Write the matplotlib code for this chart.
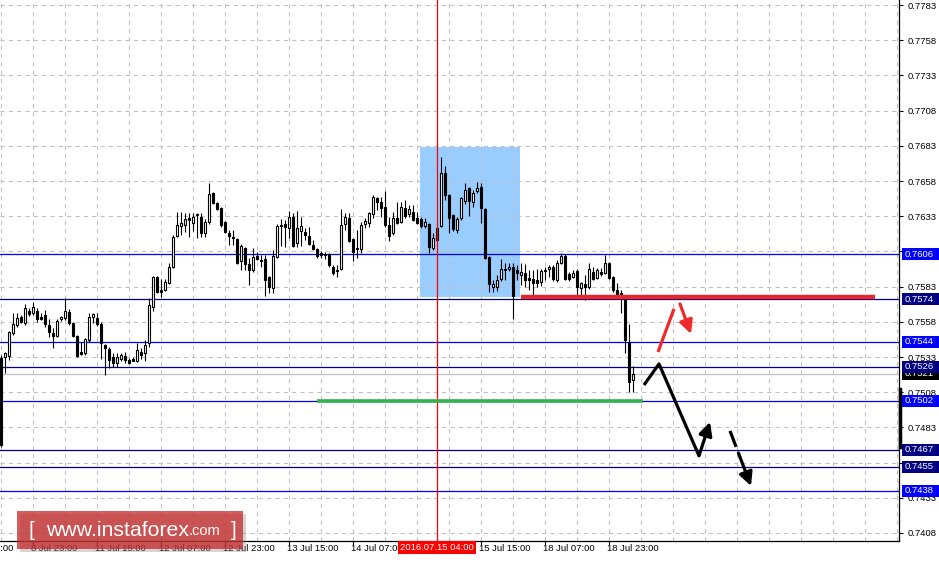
import numpy as np
import matplotlib.pyplot as plt
from matplotlib.patches import Rectangle
import matplotlib.transforms as mtransforms

plt.rcParams['font.family'] = ['Liberation Sans', 'DejaVu Sans']

# hourly candles, 8 Jul 15:00 .. 18 Jul 23:00 (one per hour, weekend skipped)
opens = [0.75323, 0.75330, 0.75337, 0.75501, 0.75557, 0.75614, 0.75572, 0.75657, 0.75643, 0.75657,
         0.75614, 0.75628, 0.75557, 0.75501, 0.75479, 0.75600, 0.75607, 0.75650, 0.75572, 0.75479,
         0.75366, 0.75359, 0.75451, 0.75614, 0.75607, 0.75565, 0.75415, 0.75387, 0.75330, 0.75288,
         0.75316, 0.75337, 0.75309, 0.75316, 0.75302, 0.75366, 0.75359, 0.75430, 0.75685, 0.75898,
         0.75806, 0.75806, 0.75856, 0.75970, 0.76190, 0.76261, 0.76268, 0.76318, 0.76283, 0.76339,
         0.76325, 0.76212, 0.76290, 0.76496, 0.76425, 0.76389, 0.76290, 0.76212, 0.76183, 0.76169,
         0.76013, 0.76105, 0.75992, 0.75948, 0.76049, 0.76020, 0.76027, 0.75898, 0.75820, 0.76042,
         0.76268, 0.76276, 0.76247, 0.76325, 0.76141, 0.76226, 0.76219, 0.76190, 0.76127, 0.76098,
         0.76069, 0.76063, 0.76063, 0.75970, 0.75948, 0.75956, 0.76276, 0.76318, 0.76169, 0.76098,
         0.76098, 0.76276, 0.76283, 0.76347, 0.76460, 0.76432, 0.76396, 0.76268, 0.76212, 0.76318,
         0.76290, 0.76389, 0.76347, 0.76361, 0.76318, 0.76311, 0.76261, 0.76276, 0.76105, 0.76247,
         0.76261, 0.76638, 0.76481, 0.76339, 0.76233, 0.76318, 0.76439, 0.76531, 0.76432, 0.76510,
         0.76538, 0.76382, 0.76042, 0.75827, 0.75827, 0.75884, 0.75948, 0.75956, 0.75970, 0.75948,
         0.75913, 0.75927, 0.75891, 0.75884, 0.75877, 0.75863, 0.75948, 0.75956, 0.75970, 0.75877,
         0.75999, 0.76049, 0.75919, 0.75898, 0.75941, 0.75820, 0.75849, 0.75827, 0.75934, 0.75891,
         0.75934, 0.75927, 0.75999, 0.75898, 0.75806, 0.75785, 0.75749, 0.75437, 0.75167]
highs = [0.75344, 0.75366, 0.75515, 0.75643, 0.75643, 0.75628, 0.75707, 0.75678, 0.75721, 0.75678,
         0.75643, 0.75664, 0.75600, 0.75536, 0.75600, 0.75621, 0.75749, 0.75671, 0.75579, 0.75487,
         0.75437, 0.75465, 0.75643, 0.75643, 0.75643, 0.75579, 0.75423, 0.75401, 0.75359, 0.75359,
         0.75359, 0.75366, 0.75323, 0.75330, 0.75430, 0.75394, 0.75451, 0.75749, 0.75905, 0.75905,
         0.75884, 0.75884, 0.75999, 0.76197, 0.76361, 0.76361, 0.76354, 0.76354, 0.76354, 0.76354,
         0.76354, 0.76311, 0.76567, 0.76503, 0.76432, 0.76396, 0.76297, 0.76233, 0.76233, 0.76176,
         0.76134, 0.76112, 0.76035, 0.76105, 0.76077, 0.76056, 0.76056, 0.75905, 0.76091, 0.76276,
         0.76311, 0.76304, 0.76368, 0.76354, 0.76368, 0.76325, 0.76247, 0.76254, 0.76162, 0.76105,
         0.76084, 0.76077, 0.76069, 0.75985, 0.75985, 0.76382, 0.76354, 0.76354, 0.76176, 0.76233,
         0.76289, 0.76318, 0.76361, 0.76481, 0.76467, 0.76467, 0.76510, 0.76325, 0.76361, 0.76432,
         0.76432, 0.76446, 0.76411, 0.76411, 0.76361, 0.76325, 0.76318, 0.76283, 0.76212, 0.76261,
         0.76751, 0.76687, 0.76488, 0.76347, 0.76325, 0.76467, 0.76567, 0.76538, 0.76517, 0.76574,
         0.76567, 0.76389, 0.76049, 0.75877, 0.75913, 0.76027, 0.75999, 0.75999, 0.75999, 0.75985,
         0.75999, 0.75992, 0.75948, 0.75948, 0.75956, 0.75956, 0.75970, 0.75985, 0.75985, 0.76020,
         0.76069, 0.76063, 0.75934, 0.75948, 0.75956, 0.75863, 0.75913, 0.75999, 0.75970, 0.75963,
         0.75963, 0.76056, 0.76006, 0.75905, 0.75856, 0.75806, 0.75756, 0.75565, 0.75267]
lows = [0.74691, 0.75217, 0.75309, 0.75487, 0.75543, 0.75572, 0.75557, 0.75621, 0.75628, 0.75579,
        0.75593, 0.75543, 0.75472, 0.75394, 0.75472, 0.75586, 0.75593, 0.75557, 0.75472, 0.75330,
        0.75344, 0.75344, 0.75437, 0.75572, 0.75550, 0.75316, 0.75202, 0.75252, 0.75259, 0.75259,
        0.75302, 0.75288, 0.75281, 0.75302, 0.75295, 0.75316, 0.75302, 0.75401, 0.75657, 0.75785,
        0.75756, 0.75799, 0.75849, 0.75963, 0.76183, 0.76197, 0.76219, 0.76183, 0.76226, 0.76176,
        0.76183, 0.76183, 0.76276, 0.76418, 0.76375, 0.76253, 0.76212, 0.76127, 0.76127, 0.75992,
        0.75948, 0.75948, 0.75842, 0.75934, 0.76020, 0.75970, 0.75763, 0.75785, 0.75785, 0.76035,
        0.76120, 0.76112, 0.76176, 0.76112, 0.76112, 0.76120, 0.76162, 0.76127, 0.76091, 0.76035,
        0.76035, 0.76027, 0.75970, 0.75913, 0.75898, 0.75948, 0.76233, 0.76148, 0.76013, 0.76035,
        0.76069, 0.76247, 0.76254, 0.76318, 0.76375, 0.76325, 0.76254, 0.76155, 0.76197, 0.76276,
        0.76283, 0.76318, 0.76325, 0.76297, 0.76276, 0.76247, 0.76247, 0.76069, 0.76091, 0.76155,
        0.76254, 0.76446, 0.76212, 0.76226, 0.76212, 0.76304, 0.76418, 0.76332, 0.76396, 0.76496,
        0.76283, 0.76027, 0.75792, 0.75792, 0.75799, 0.75870, 0.75877, 0.75941, 0.75600, 0.75877,
        0.75842, 0.75827, 0.75806, 0.75770, 0.75827, 0.75834, 0.75877, 0.75898, 0.75870, 0.75863,
        0.75992, 0.75877, 0.75870, 0.75891, 0.75770, 0.75756, 0.75735, 0.75813, 0.75877, 0.75884,
        0.75906, 0.75919, 0.75884, 0.75792, 0.75756, 0.75643, 0.75359, 0.75082, 0.75082]
closes = [0.74705, 0.75359, 0.75508, 0.75565, 0.75607, 0.75579, 0.75678, 0.75635, 0.75685, 0.75600,
          0.75603, 0.75565, 0.75508, 0.75479, 0.75586, 0.75614, 0.75657, 0.75572, 0.75479, 0.75337,
          0.75352, 0.75458, 0.75614, 0.75635, 0.75565, 0.75430, 0.75394, 0.75309, 0.75288, 0.75330,
          0.75344, 0.75309, 0.75288, 0.75305, 0.75380, 0.75344, 0.75415, 0.75700, 0.75898, 0.75792,
          0.75792, 0.75863, 0.75970, 0.76183, 0.76268, 0.76283, 0.76311, 0.76304, 0.76325, 0.76347,
          0.76212, 0.76290, 0.76488, 0.76425, 0.76382, 0.76268, 0.76219, 0.76190, 0.76176, 0.75999,
          0.76120, 0.75992, 0.75948, 0.76042, 0.76027, 0.76013, 0.75877, 0.75827, 0.76049, 0.76261,
          0.76261, 0.76254, 0.76325, 0.76120, 0.76247, 0.76261, 0.76197, 0.76134, 0.76098, 0.76049,
          0.76056, 0.76052, 0.75985, 0.75927, 0.75941, 0.76268, 0.76325, 0.76155, 0.76077, 0.76105,
          0.76268, 0.76297, 0.76354, 0.76467, 0.76432, 0.76389, 0.76268, 0.76190, 0.76318, 0.76283,
          0.76396, 0.76332, 0.76382, 0.76304, 0.76283, 0.76261, 0.76290, 0.76112, 0.76176, 0.76162,
          0.76638, 0.76481, 0.76318, 0.76240, 0.76311, 0.76460, 0.76517, 0.76439, 0.76496, 0.76531,
          0.76389, 0.76035, 0.75849, 0.75849, 0.75877, 0.75956, 0.75956, 0.75970, 0.75763, 0.75927,
          0.75934, 0.75877, 0.75877, 0.75856, 0.75856, 0.75941, 0.75941, 0.75970, 0.75884, 0.75999,
          0.76049, 0.75884, 0.75884, 0.75927, 0.75827, 0.75856, 0.75827, 0.75956, 0.75884, 0.75948,
          0.75919, 0.75999, 0.75891, 0.75806, 0.75770, 0.75763, 0.75451, 0.75153, 0.75210]

# price grid on the right (labels hidden under level boxes are left blank)
price_ticks = [0.7783, 0.7758, 0.7733, 0.7708, 0.7683, 0.7658, 0.7633, 0.7608,
               0.7583, 0.7558, 0.7533, 0.7508, 0.7483, 0.7458, 0.7433, 0.7408]
hidden_ticks = [0.7608, 0.7458]
# horizontal levels
level_prices = [0.7606, 0.7574, 0.7544, 0.7526, 0.7502, 0.7467, 0.7455, 0.7438]
level_colors = ['#0000ff', '#000080', '#0000ff', '#000080', '#0000ff', '#000080', '#000080', '#0000ff']
bid_price = 0.7521

# time labels (bar index, text)
time_idx = [-8, 8, 24, 40, 56, 72, 88, 120, 136, 152]
time_txt = ['8 Jul 07:00', '8 Jul 23:00', '11 Jul 15:00', '12 Jul 07:00', '12 Jul 23:00',
            '13 Jul 15:00', '14 Jul 07:00', '15 Jul 15:00', '18 Jul 07:00', '18 Jul 23:00']
cursor_idx = 109
cursor_txt = '2016.07.15 04:00'

# drawn objects
zone_x = [104.75, 129.75]
zone_y = [0.75756, 0.76822]
resist_x = [130, 218.5]
resist_y = 0.75756
support_x = [79, 160.5]
support_y = 0.7502
red_path_x = [164.25, 168.25]
red_path_y = [0.75366, 0.75672]
red_arrow = [(169.75, 0.75707), (172.5, 0.75494)]
black_path_x = [160.75, 164.5, 174.5]
black_path_y = [0.75131, 0.75281, 0.74628]
black_arrow = [(174.5, 0.74628), (177.25, 0.74869)]
dash_arrow = [(182.25, 0.74805), (187.5, 0.74414)]

W, H = 939, 562
AX_W, AX_H = 899, 541
fig = plt.figure(figsize=(W / 100, H / 100), dpi=100)
ax = fig.add_axes([0, (H - AX_H) / H, AX_W / W, AX_H / H])
ymin, ymax = 0.74023, 0.77866
ax.set_xlim(-0.25, AX_W / 4 - 0.25)
ax.set_ylim(ymin, ymax)
px = (ymax - ymin) / AX_H

trans = mtransforms.blended_transform_factory(ax.transAxes, ax.transData)
transx = mtransforms.blended_transform_factory(ax.transData, ax.transAxes)

# grid
for p in price_ticks:
    ax.axhline(p, color='#c0c0c0', lw=0.75, ls=(0, (4, 4)), zorder=1)
for gx in np.arange(0, 225, 8):
    ax.axvline(gx, color='#c0c0c0', lw=0.75, ls=(0, (4, 4)), zorder=1)

# blue zone
ax.add_patch(Rectangle((zone_x[0], zone_y[0]), zone_x[1] - zone_x[0], zone_y[1] - zone_y[0],
                       facecolor='#99ccff', edgecolor='none', zorder=0.5))

# levels
for p, c in zip(level_prices, level_colors):
    ax.axhline(p, color=c, lw=0.9, zorder=2)
ax.axhline(bid_price, color='#c0c0c0', lw=0.9, zorder=2)

# candles
x = np.arange(len(opens))
o = np.array(opens)
c = np.array(closes)
ax.vlines(x, lows, highs, color='black', lw=0.8, zorder=3)
up = c >= o
body_lo = np.minimum(o, c)
body_h = np.maximum(np.abs(c - o), px * 0.6)
ax.bar(x[up], body_h[up], bottom=body_lo[up], width=0.62, facecolor='white',
       edgecolor='black', linewidth=0.8, zorder=3.5)
ax.bar(x[~up], body_h[~up], bottom=body_lo[~up], width=0.62, facecolor='black',
       edgecolor='black', linewidth=0.8, zorder=3.5)

# cursor line
ax.axvline(cursor_idx, color='red', lw=0.9, zorder=4)

# resistance / support
ax.hlines(resist_y, resist_x[0], resist_x[1], color='#e8262e', lw=3.2, zorder=4)
ax.hlines(support_y, support_x[0], support_x[1], color='#33b24a', lw=2.6, zorder=4)

# forecast arrows
head = dict(arrowstyle='-|>', lw=2.3, mutation_scale=20, shrinkA=0, shrinkB=0)
ax.plot(red_path_x, red_path_y, color='#ee2a2a', lw=2.3, solid_capstyle='butt', zorder=5)
ax.annotate('', xy=red_arrow[1], xytext=red_arrow[0],
            arrowprops=dict(head, color='#ee2a2a'), zorder=5)
ax.plot(black_path_x, black_path_y, color='black', lw=2.3, solid_capstyle='butt', zorder=5)
ax.annotate('', xy=black_arrow[1], xytext=black_arrow[0],
            arrowprops=dict(head, color='black'), zorder=5)
(x0, y0), (x1, y1) = dash_arrow
ax.plot([x0, x0 + (x1 - x0) * 0.29], [y0, y0 + (y1 - y0) * 0.29], color='black', lw=2.3,
        solid_capstyle='butt', zorder=5)
ax.annotate('', xy=(x1, y1), xytext=(x0 + (x1 - x0) * 0.4, y0 + (y1 - y0) * 0.4),
            arrowprops=dict(head, color='black'), zorder=5)

# axes frame
for s in ['left', 'top']:
    ax.spines[s].set_visible(False)
ax.spines['right'].set_linewidth(0.9)
ax.spines['bottom'].set_linewidth(0.9)
ax.yaxis.tick_right()
ax.set_yticks(price_ticks)
ax.set_yticklabels(['' if p in hidden_ticks else f'{p:.4f}' for p in price_ticks])
ax.tick_params(axis='y', length=3, width=0.8, pad=3, labelsize=6.8)
ax.set_xticks([i for i in time_idx if i >= 0] + [cursor_idx])
ax.set_xticklabels([])
ax.tick_params(axis='x', length=3, width=0.8)

# range bar on the price scale
ax.plot([1.001, 1.001], [0.74691, 0.75100], transform=trans, color='black', lw=2.5,
        clip_on=False, zorder=6)

# level labels
lab_h = 12 * px
for p, col in list(zip(level_prices, level_colors)) + [(bid_price, 'black')]:
    ax.add_patch(Rectangle((1.003, p - lab_h / 2), 38 / AX_W, lab_h, transform=trans,
                           facecolor=col, edgecolor='none', clip_on=False, zorder=7))
    ax.text(1.0 + 6 / AX_W, p, f'{p:.4f}', transform=trans, color='white', fontsize=6.8,
            ha='left', va='center', clip_on=False, zorder=8)
# 0.7526 box sits over the bid box, as in the terminal
ax.add_patch(Rectangle((1.003, 0.7526 - lab_h / 2), 38 / AX_W, lab_h * 0.8, transform=trans,
                       facecolor='#000080', edgecolor='none', clip_on=False, zorder=8.5))
ax.text(1.0 + 6 / AX_W, 0.7526, '0.7526', transform=trans, color='white', fontsize=6.8,
        ha='left', va='center', clip_on=False, zorder=9)

# time labels
for i, t in zip(time_idx, time_txt):
    ax.text(i - 0.4, -3 / AX_H, t, transform=transx, fontsize=6.8, ha='left', va='top',
            clip_on=False, zorder=6)
ax.text(cursor_idx, -2 / AX_H, cursor_txt, transform=transx, fontsize=6.8, ha='center',
        va='top', color='white', clip_on=False, zorder=10,
        bbox=dict(boxstyle='square,pad=0.25', facecolor='#ff0000', edgecolor='none'))

# logo
fig.patches.append(Rectangle((20 / W, (H - 552) / H), 226 / W, 38 / H, transform=fig.transFigure,
                             facecolor='#888888', alpha=0.35, edgecolor='none', zorder=20))
fig.patches.append(Rectangle((17 / W, (H - 549) / H), 226 / W, 38 / H, transform=fig.transFigure,
                             facecolor='#c62828', alpha=0.75, edgecolor='none', zorder=21))
fig.text(28 / W, (H - 530) / H, '[', color='white', fontsize=15, ha='left', va='center', zorder=22)
fig.text(46 / W, (H - 530) / H, 'www.instaforex', color='white', fontsize=15.3, ha='left',
         va='center', zorder=22)
fig.text(189 / W, (H - 531) / H, '.com', color='white', fontsize=10.5, ha='left', va='center', zorder=22)
fig.text(231 / W, (H - 530) / H, ']', color='white', fontsize=15, ha='left', va='center', zorder=22)

fig.savefig('out.png', dpi=100)
